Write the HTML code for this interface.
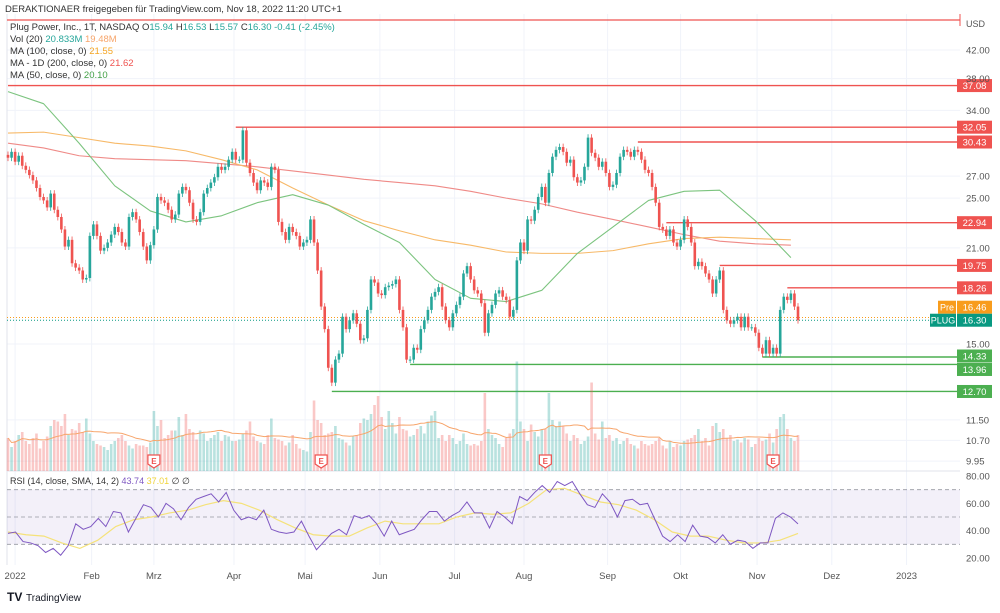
<!DOCTYPE html>
<html><head><meta charset="utf-8"><style>
body{margin:0;background:#fff;width:1000px;height:608px;overflow:hidden;font-family:"Liberation Sans",sans-serif}
svg text{font-family:"Liberation Sans",sans-serif}
</style></head><body>
<svg id="c" width="1000" height="608" viewBox="0 0 1000 608">
<text x="5" y="12" font-size="9.5" fill="#333">DERAKTIONAER freigegeben für TradingView.com, Nov 18, 2022 11:20 UTC+1</text>
<g id="grid"></g>
<g id="levels"></g>
<g id="vol"></g>
<g id="mas"></g>
<g id="candles"></g>
<g id="rsi"></g>
<g id="axis"></g>
<g font-size="9.5">
<text x="10" y="30" fill="#333">Plug Power, Inc., 1T, NASDAQ <tspan fill="#333">O</tspan><tspan fill="#26a69a">15.94</tspan> <tspan fill="#333">H</tspan><tspan fill="#26a69a">16.53</tspan> <tspan fill="#333">L</tspan><tspan fill="#26a69a">15.57</tspan> <tspan fill="#333">C</tspan><tspan fill="#26a69a">16.30</tspan> <tspan fill="#26a69a">-0.41 (-2.45%)</tspan></text>
<text x="10" y="42" fill="#333">Vol (20) <tspan fill="#26a69a">20.833M</tspan> <tspan fill="#f7a56b">19.48M</tspan></text>
<text x="10" y="54" fill="#333">MA (100, close, 0) <tspan fill="#f5a623">21.55</tspan></text>
<text x="10" y="66" fill="#333">MA - 1D (200, close, 0) <tspan fill="#ef5350">21.62</tspan></text>
<text x="10" y="78" fill="#333">MA (50, close, 0) <tspan fill="#43a047">20.10</tspan></text>
</g>
<text x="10" y="484" font-size="9" fill="#333">RSI (14, close, SMA, 14, 2) <tspan fill="#7e57c2">43.74</tspan> <tspan fill="#f0d43a">37.01</tspan> ∅ ∅</text>
<g><text x="7" y="601" font-size="12" font-weight="bold" fill="#131722">TV</text><text x="26" y="601" font-size="10" fill="#131722">TradingView</text></g>
</svg>
<script>
const closes=[28.8,29.4,28.4,29.0,28.0,27.6,27.1,26.6,25.9,25.1,24.8,24.2,25.4,24.0,23.4,22.4,21.1,21.6,19.9,19.6,19.4,18.8,18.9,21.9,22.8,21.9,20.8,21.0,21.4,22.0,22.6,22.2,21.4,21.1,
23.4,23.8,23.2,22.2,21.1,20.1,21.2,22.4,25.1,24.8,24.6,24.0,23.2,23.6,25.4,26.0,25.7,24.6,23.2,23.0,23.8,25.4,25.9,26.4,26.9,27.9,27.6,27.9,28.6,29.4,28.6,28.6,31.7,28.3,27.3,26.4,25.7,26.6,26.4,26.0,
27.9,27.6,23.0,22.2,21.6,22.6,22.2,21.9,21.1,21.4,21.6,23.2,21.4,19.4,17.1,15.8,13.8,13.1,14.2,14.5,16.5,15.8,16.3,16.7,16.1,15.2,15.3,16.9,18.8,18.6,17.9,17.8,18.3,18.4,18.5,18.8,16.9,15.9,14.2,14.2,14.8,14.7,15.8,16.3,16.9,17.7,18.0,18.3,17.1,16.3,15.9,16.7,17.2,17.7,19.2,19.7,18.8,18.1,17.9,17.3,15.6,16.7,17.2,17.9,18.1,17.7,17.5,16.5,16.9,20.1,21.4,20.8,23.2,23.1,
24.0,25.1,26.0,24.6,27.3,28.9,29.6,29.9,29.4,28.3,28.6,26.9,26.4,26.6,27.9,30.9,29.3,28.8,27.9,28.4,27.3,26.0,26.2,27.3,28.9,29.6,29.4,28.9,29.6,29.4,28.6,27.6,27.3,26.0,24.6,22.6,22.4,21.9,22.4,21.4,21.1,21.6,23.2,22.6,21.4,19.7,20.0,19.7,19.2,18.8,17.9,18.8,19.4,16.9,16.3,16.1,16.3,16.5,15.9,16.5,15.9,15.9,15.6,14.8,14.5,15.2,14.5,14.8,14.5,16.9,17.7,17.5,17.9,17.1,16.3];
const volumes=[22,16,20,24,26,20,18,22,25,15,20,23,30,34,33,30,38,24,28,27,32,
26,35,25,20,18,17,16,14,18,20,22,24,20,17,15,18,17,17,16,19,
40,30,34,22,24,27,27,36,24,38,28,26,21,27,25,20,22,24,26,20,
24,23,20,20,21,25,27,33,23,20,19,18,24,35,22,21,20,17,19,24,
18,15,14,13,26,47,34,32,24,25,26,30,22,21,19,17,23,24,32,35,
34,38,44,50,36,28,40,32,25,36,28,27,23,24,28,30,25,33,37,40,
22,24,20,24,22,18,20,25,18,17,18,17,20,52,28,24,22,18,16,22,25,28,73,33,28,20,31,26,23,28,28,52,34,30,33,30,25,20,24,22,18,20,23,59,25,21,33,22,24,20,22,18,20,22,18,17,15,20,18,17,
18,20,22,17,15,20,16,18,17,20,21,22,24,28,20,22,17,30,32,26,
28,22,24,20,21,19,22,21,16,18,22,20,21,25,19,28,36,38,28,22,20,24];
const ma50=[36.3,34.8,30.3,26.1,23.9,23.0,23.5,24.6,25.3,24.4,22.8,21.4,18.8,17.6,17.4,18.1,20.6,22.6,24.8,25.6,25.7,23.1,20.3];
const ma100=[31.4,31.5,30.9,30.3,30.0,29.5,28.6,27.6,25.9,24.4,23.1,22.3,21.6,21.2,20.7,20.6,20.6,20.8,21.3,21.7,21.8,21.7,21.6];
const ma200=[30.3,29.8,29.0,28.7,28.6,28.5,28.2,27.9,27.5,27.1,26.7,26.4,26.1,25.6,25.0,24.5,23.8,23.2,22.6,22.0,21.5,21.3,21.2];
const rsiValues=[38,39,32,31,29,24,27,22,29,45,41,43,49,43,54,53,39,49,59,57,50,60,56,48,57,63,65,67,61,68,55,48,50,48,55,41,39,38,39,47,36,26,32,38,41,37,51,49,51,45,36,
47,37,39,41,48,54,54,47,51,54,61,53,53,42,54,50,45,65,62,68,73,68,76,73,76,67,59,57,67,61,50,62,63,59,60,48,36,32,37,32,44,36,35,31,37,30,33,32,27,31,31,49,53,50,45];
const rsiSma=[39,37,36,31,27,33,43,48,50,53,55,59,62,60,55,48,42,37,36,36,42,47,45,45,45,50,53,52,53,60,70,71,66,61,59,55,48,39,36,36,33,31,31,33,38];
const priceTicks=["42.00","38.00","34.00","27.00","25.00","21.00","15.00","11.50","10.70","9.95"];
const rsiTicks=[80,60,40,20];
const months=["2022","Feb","Mrz","Apr","Mai","Jun","Jul","Aug","Sep","Okt","Nov","Dez","2023"];
const monthDays=[2,23.5,41,63.5,83.5,104.5,125.5,145,168.5,189,210.5,231.5,252.5];
const levelPrices=[37.08,32.05,30.43,22.94,19.75,18.26,14.33,13.96,12.70];
const levelStart=[0,64,177,185,200,219,212,113,91];
const levelKinds=["r","r","r","r","r","r","g","g","g"];
const earningsDays=[41,88,151,215];

(function(){
const NS="http://www.w3.org/2000/svg";
function mk(t,a,p){const e=document.createElementNS(NS,t);for(const k in a)e.setAttribute(k,a[k]);p.appendChild(e);return e;}
const N=closes.length, X0=8, XW=790, RIGHT=960;
const xs=i=>X0+i*XW/(N-1);
const py=p=>50+285.5*Math.log(42/p);
const vy=v=>471-v*1.5;
const ry=v=>517-(v-50)*1.365;
const G=id=>document.getElementById(id);

const grid=G('grid');
months.forEach((m,k)=>{const x=xs(monthDays[k]);const l=mk('line',{x1:x,x2:x,y1:14,y2:565,stroke:'#f0f3fa'},grid);

});
priceTicks.forEach(t=>{const y=py(parseFloat(t));const l=mk('line',{x1:7,x2:RIGHT,y1:y,y2:y,stroke:'#f0f3fa'},grid);

});
mk('line',{x1:7,x2:7,y1:14,y2:565,stroke:'#e0e3eb'},grid);
mk('line',{x1:7,x2:RIGHT,y1:471,y2:471,stroke:'#e0e3eb'},grid);
const topLine=mk('line',{x1:7,x2:RIGHT,y1:20,y2:20,stroke:'#ef5350','stroke-width':1.3},grid);


mk('line',{x1:RIGHT,x2:RIGHT,y1:14,y2:26,stroke:'#ef5350'},grid);

const lv=G('levels');
const labelShift={14.33:-1,13.96:5};
levelPrices.forEach((p,k)=>{const y=py(p);const col=levelKinds[k]=='r'?'#ef5350':'#4caf50';
const l=mk('line',{x1:xs(levelStart[k]),x2:RIGHT,y1:y,y2:y,stroke:col,'stroke-width':1.4},lv);


const ly=y+(labelShift[p]||0);
const b=mk('rect',{x:957,y:ly-6.5,width:35,height:13,fill:col},lv);


const t=mk('text',{x:974.5,y:ly+3.5,'font-size':9.5,fill:'#fff','text-anchor':'middle'},lv);t.textContent=p.toFixed(2);});
const plugY=py(16.30);
[[16.46,'#f89c1c','Pre',plugY-13],[16.30,'#089981','PLUG',plugY]].forEach(([p,col,lab,ly])=>{const y=py(p);
const l=mk('line',{x1:7,x2:RIGHT,y1:y,y2:y,stroke:col,'stroke-dasharray':'1,2'},lv);


mk('rect',{x:lab=='Pre'?938:930,y:ly-6.5,width:lab=='Pre'?18:26,height:13,fill:col},lv);
const t1=mk('text',{x:lab=='Pre'?947:943,y:ly+3.5,'font-size':9,fill:'#fff','text-anchor':'middle'},lv);t1.textContent=lab;
mk('rect',{x:957,y:ly-6.5,width:35,height:13,fill:col},lv);
const t=mk('text',{x:974.5,y:ly+3.5,'font-size':9.5,fill:'#fff','text-anchor':'middle'},lv);t.textContent=p.toFixed(2);});

const vg=G('vol');
const opens=closes.map((c,i)=>i?closes[i-1]:c*1.01);
volumes.forEach((v,i)=>{const up=closes[i]>=opens[i];const y=vy(v);
const r=mk('rect',{x:xs(i)-1.3,y:y,width:2.6,height:471-y,fill:up?'rgba(38,166,154,0.32)':'rgba(239,83,80,0.32)'},vg);

});
let vpts=[];volumes.forEach((v,i)=>{const s=volumes.slice(Math.max(0,i-19),i+1);vpts.push(xs(i)+','+vy(s.reduce((a,b)=>a+b,0)/s.length));});
const vma=mk('polyline',{points:vpts.join(' '),fill:'none',stroke:'#f7a56b','stroke-width':1},vg);


earningsDays.forEach(d=>{const x=xs(d);
const e=mk('path',{d:`M${x-6},455h12v9l-6,4l-6,-4z`,fill:'#fff',stroke:'#ef5350','stroke-width':1.2},vg);


const t=mk('text',{x:x,y:464,'font-size':8,fill:'#ef5350','text-anchor':'middle','font-weight':'bold'},vg);t.textContent='E';});

const mg=G('mas');
[[ma200,'#ef8a87','ma200-line'],[ma100,'#f7b968','ma100-line'],[ma50,'#7cc47f','ma50-line']].forEach(([arr,col,name])=>{
const pts=arr.map((v,k)=>xs(k*10)+','+py(v)).join(' ');
const l=mk('polyline',{points:pts,fill:'none',stroke:col,'stroke-width':1.1,'stroke-linejoin':'round'},mg);

});

const cg=G('candles');
closes.forEach((c,i)=>{const o=opens[i];const up=c>=o;const col=up?'#26a69a':'#ef5350';const x=xs(i);
const hi=Math.max(o,c)*1.012, lo=Math.min(o,c)*0.988;
mk('line',{x1:x,x2:x,y1:py(hi),y2:py(lo),stroke:col,'stroke-width':0.8},cg);
const yt=py(Math.max(o,c)), yb=py(Math.min(o,c));
const r=mk('rect',{x:x-1.3,y:yt,width:2.6,height:Math.max(1,yb-yt),fill:col},cg);

});

const rg=G('rsi');
const band=mk('rect',{x:7,y:ry(70),width:RIGHT-7,height:ry(30)-ry(70),fill:'rgba(126,87,194,0.09)'},rg);


[70,50,30].forEach(v=>{const l=mk('line',{x1:7,x2:RIGHT,y1:ry(v),y2:ry(v),stroke:'#9598a1','stroke-dasharray':'4,3','stroke-width':0.8},rg);

});
const sp=rsiSma.map((v,k)=>(X0+k*XW/(rsiSma.length-1))+','+ry(v)).join(' ');
const sl=mk('polyline',{points:sp,fill:'none',stroke:'#f5e27a','stroke-width':1.2},rg);


const rp=rsiValues.map((v,k)=>(X0+k*XW/(rsiValues.length-1))+','+ry(v)).join(' ');
const rl=mk('polyline',{points:rp,fill:'none',stroke:'#7e57c2','stroke-width':1},rg);



const ag=G('axis');
const usd=mk('text',{x:966,y:27,'font-size':9,fill:'#555'},ag);usd.textContent='USD';


priceTicks.forEach(t=>{const e=mk('text',{x:966,y:py(parseFloat(t))+3.5,'font-size':9.5,fill:'#555'},ag);e.textContent=t;

});
rsiTicks.forEach(v=>{const e=mk('text',{x:966,y:ry(v)+3.5,'font-size':9.5,fill:'#555'},ag);e.textContent=v.toFixed(2);

});
months.forEach((m,k)=>{const e=mk('text',{x:xs(monthDays[k]),y:579,'font-size':9.5,fill:'#555','text-anchor':'middle'},ag);e.textContent=m;

});
})();
</script>
</body></html>
